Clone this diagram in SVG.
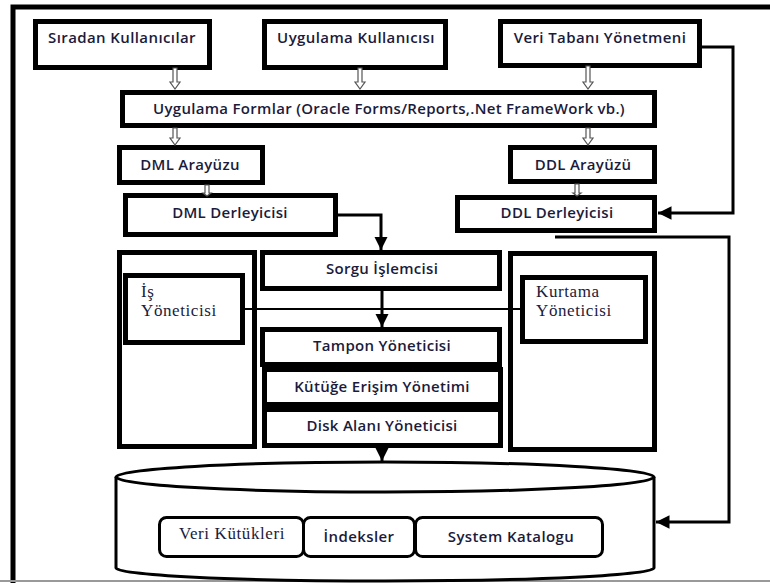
<svg xmlns="http://www.w3.org/2000/svg" width="770" height="583" viewBox="0 0 770 583">
  <style>
    .box { fill: #fff; stroke: #000; stroke-width: 5; }
    .thin { fill: #fff; stroke: #000; stroke-width: 3; }
    .lbl { font-family: "Open Sans", "Liberation Sans", Arial, sans-serif; font-weight: 600; font-size: 15px; letter-spacing: 0.4px; fill: #1b1b3b; text-anchor: middle; }
    .big { font-size: 15px; letter-spacing: 0.3px; }
    .serif { font-family: "Liberation Serif", "Times New Roman", serif; font-size: 17px; letter-spacing: 0.6px; fill: #1b1b3b; }
    .line { fill: none; stroke: #000; stroke-width: 3; }
    .hollow { fill: #fff; stroke: #555; stroke-width: 1.2; }
  </style>
  <defs>
    <marker id="head" viewBox="0 0 10 10" refX="10" refY="5" markerWidth="4.5" markerHeight="4.5" markerUnits="strokeWidth" orient="auto">
      <path d="M0,0 L10,5 L0,10 Z" fill="#000"/>
    </marker>
  </defs>

  <rect width="770" height="583" fill="#fff"/>
  <!-- outer frame -->
  <path d="M13,583 V7 H770" fill="none" stroke="#000" stroke-width="5"/>
  <line x1="0" y1="581" x2="770" y2="581" stroke="#999" stroke-width="2"/>

  <g id="siradan">
    <rect class="box" x="35.5" y="21.5" width="174" height="46"/>
    <text class="lbl" x="122" y="43">Sıradan Kullanıcılar</text>
  </g>
  <g id="uygulama-kullanici">
    <rect class="box" x="264.5" y="21.5" width="181" height="46"/>
    <text class="lbl" x="356" y="43">Uygulama Kullanıcısı</text>
  </g>
  <g id="vt-yonetmeni">
    <rect class="box" x="500.5" y="21.5" width="199" height="44"/>
    <text class="lbl" x="600" y="43">Veri Tabanı Yönetmeni</text>
  </g>
  <g id="formlar">
    <rect class="box" x="122.5" y="92.5" width="532" height="33"/>
    <text class="lbl big" x="389" y="114">Uygulama Formlar (Oracle Forms/Reports,.Net FrameWork vb.)</text>
  </g>
  <g id="dml-arayuz">
    <rect class="box" x="119.5" y="147.5" width="143" height="35"/>
    <text class="lbl big" x="190" y="170">DML Arayüzu</text>
  </g>
  <g id="ddl-arayuz">
    <rect class="box" x="510.5" y="147.5" width="144" height="34"/>
    <text class="lbl big" x="583" y="170">DDL Arayüzü</text>
  </g>
  <g id="dml-derleyici">
    <rect class="box" x="125.5" y="195.5" width="210" height="39"/>
    <text class="lbl big" x="230" y="218">DML Derleyicisi</text>
  </g>
  <g id="ddl-derleyici">
    <rect class="box" x="457.5" y="197.5" width="197" height="33"/>
    <text class="lbl big" x="557" y="218">DDL Derleyicisi</text>
  </g>
  <g id="is-kap">
    <rect class="box" x="119.5" y="252.5" width="135" height="194"/>
  </g>
  <g id="is-yoneticisi">
    <rect class="box" x="125.5" y="275.5" width="117" height="67"/>
    <text class="serif" x="141" y="297">İş</text>
    <text class="serif" x="141" y="315.5">Yöneticisi</text>
  </g>
  <g id="sorgu">
    <rect class="box" x="262.5" y="252.5" width="237" height="36"/>
    <text class="lbl big" x="382" y="274">Sorgu İşlemcisi</text>
  </g>
  <g id="tampon">
    <rect class="box" x="262.5" y="329.5" width="237" height="35"/>
    <text class="lbl big" x="382" y="351">Tampon Yöneticisi</text>
  </g>
  <g id="kutuge">
    <rect class="box" x="264.5" y="369.5" width="236" height="35"/>
    <text class="lbl big" x="382" y="392">Kütüğe Erişim Yönetimi</text>
  </g>
  <g id="disk">
    <rect class="box" x="264.5" y="409.5" width="236" height="36"/>
    <text class="lbl big" x="382" y="431">Disk Alanı Yöneticisi</text>
  </g>
  <g id="kurtama-kap">
    <rect class="box" x="510.5" y="253.5" width="144" height="196"/>
  </g>
  <g id="kurtama">
    <rect class="box" x="522.5" y="277.5" width="123" height="64"/>
    <text class="serif" x="536" y="297">Kurtama</text>
    <text class="serif" x="536" y="315.5">Yöneticisi</text>
  </g>

  <g id="veritabani">
    <path class="thin" d="M116,477 V568 A269,13 0 0 0 654,568 V477"/>
    <ellipse class="thin" cx="385" cy="477" rx="269" ry="15"/>
    <rect class="thin" x="159.5" y="517.5" width="144" height="39" rx="7"/>
    <rect class="thin" x="303.5" y="517.5" width="111" height="39" rx="7"/>
    <rect class="thin" x="415.5" y="517.5" width="187" height="39" rx="7"/>
    <text class="serif" x="232" y="539" text-anchor="middle">Veri Kütükleri</text>
    <text class="lbl" x="359" y="542">İndeksler</text>
    <text class="lbl" x="511" y="542">System Katalogu</text>
  </g>

  <g id="connectors">
    <!-- hollow flow arrows -->
    <path class="hollow" d="M173,68 H177 V82 H180 L175,89 L170,82 H173 Z"/>
    <path class="hollow" d="M358,68 H362 V82 H365 L360,89 L355,82 H358 Z"/>
    <path class="hollow" d="M586,66 H590 V82 H593 L588,89 L583,82 H586 Z"/>
    <path class="hollow" d="M173,128 H177 V138 H180 L175,145 L170,138 H173 Z"/>
    <path class="hollow" d="M586,128 H590 V138 H593 L588,145 L583,138 H586 Z"/>
    <path class="hollow" d="M205,185 H209 V193 H211 L207,196 L203,193 H205 Z"/>
    <path class="hollow" d="M575,184 H579 V193 H581 L577,196 L573,193 H575 Z"/>
    <!-- filled flow arrows -->
    <path class="line" d="M338,215 H381 V250" marker-end="url(#head)"/>
    <path class="line" d="M382,291 V327" marker-end="url(#head)" stroke-width="3.5"/>
    <path class="line" d="M382,448 V461" marker-end="url(#head)"/>
    <path class="line" d="M702,47 H733 V213 H658" marker-end="url(#head)"/>
    <path class="line" d="M555,237 H729 V522 H656" marker-end="url(#head)" stroke-width="2.5"/>
    <line x1="245" y1="309" x2="520" y2="309" stroke="#000" stroke-width="2"/>
  </g>
</svg>
